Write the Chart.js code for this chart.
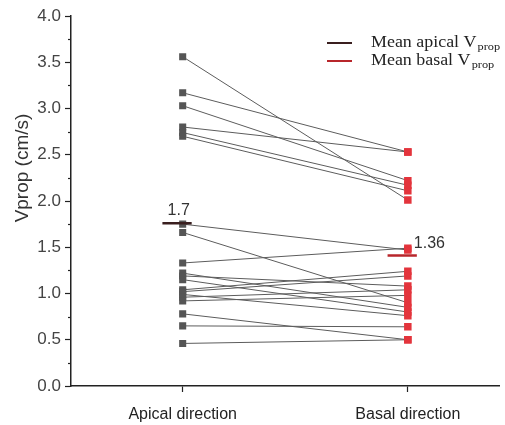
<!DOCTYPE html>
<html>
<head>
<meta charset="utf-8">
<script src="https://cdn.jsdelivr.net/npm/chart.js@4.4.1/dist/chart.umd.min.js"></script>
<style>
  html, body { margin: 0; padding: 0; background: #fff; }
</style>
</head>
<body>
<canvas id="chart" width="505" height="425"></canvas>
<script>
// data
const categories = ['Apical direction', 'Basal direction'];
const apicalValues = [3.56, 3.17, 3.03, 2.80, 2.74, 2.70, 1.75, 1.66, 1.33, 1.22, 1.19, 1.15, 1.04, 1.02, 0.99, 0.96, 0.92, 0.78, 0.65, 0.46];
const basalValues  = [2.01, 2.53, 2.22, 2.53, 2.17, 2.11, 1.47, 0.90, 1.49, 0.85, 1.08, 0.80, 1.24, 1.19, 0.76, 1.04, 0.98, 0.50, 0.64, 0.50];
const meanValues = [1.76, 1.41];
const meanLabels = ['1.7', '1.36'];
const legendNames = ['Mean apical V', 'Mean basal V'];
const legendSub = 'prop';
const yMin = 0, yMax = 4, yStep = 0.5;

const pairColor = '#5c5c5c';
const apicalColor = '#555555';
const basalColor = '#e3343c';
const meanColors = ['#3a1f1f', '#b8262b'];

// one little line per pair of measurements
const pairSets = apicalValues.map((a, i) => ({
    type: 'line',
    data: [{x: 1, y: a}, {x: 2, y: basalValues[i]}],
    borderColor: pairColor,
    borderWidth: 1,
    pointRadius: 0,
    order: 5
}));

const meanSets = meanValues.map((m, i) => ({
    type: 'line',
    data: [{x: i + 0.91, y: m}, {x: i + 1.04, y: m}],
    borderColor: meanColors[i],
    borderWidth: 2.5,
    pointRadius: 0,
    order: 1
}));

const extras = {
    id: 'extras',
    afterDraw(chart) {
        const {ctx, scales: {x, y}} = chart;
        ctx.save();

        // minor ticks on the y axis
        ctx.strokeStyle = '#222';
        ctx.lineWidth = 1.2;
        for (let v = yMin + yStep / 2; v < yMax; v += yStep) {
            const py = Math.round(y.getPixelForValue(v)) + 0.5;
            ctx.beginPath();
            ctx.moveTo(x.left - 3, py);
            ctx.lineTo(x.left, py);
            ctx.stroke();
        }

        // mean labels
        ctx.fillStyle = '#333';
        ctx.font = '16px "Liberation Sans", Arial, sans-serif';
        ctx.textBaseline = 'alphabetic';
        ctx.textAlign = 'center';
        ctx.fillText(meanLabels[0], x.getPixelForValue(1) - 4, y.getPixelForValue(meanValues[0]) - 8);
        ctx.textAlign = 'left';
        ctx.fillText(meanLabels[1], x.getPixelForValue(2) + 6, y.getPixelForValue(meanValues[1]) - 8);

        // y axis title
        ctx.save();
        ctx.translate(23, 168);
        ctx.rotate(-Math.PI / 2);
        ctx.textAlign = 'center';
        ctx.textBaseline = 'middle';
        ctx.fillStyle = '#333';
        ctx.font = '19px "Liberation Sans", Arial, sans-serif';
        ctx.fillText('Vprop (cm/s)', 0, 0);
        ctx.restore();

        // legend, text a bit wide like the original
        legendNames.forEach((name, i) => {
            const ly = 43 + i * 18;
            ctx.strokeStyle = meanColors[i];
            ctx.lineWidth = 2;
            ctx.beginPath();
            ctx.moveTo(327, ly);
            ctx.lineTo(352, ly);
            ctx.stroke();
            ctx.save();
            ctx.translate(371, ly);
            ctx.scale(1.12, 1);
            ctx.fillStyle = '#222';
            ctx.textAlign = 'left';
            ctx.font = '16px "Liberation Serif", "Times New Roman", serif';
            ctx.fillText(name, 0, 4);
            const w = ctx.measureText(name).width;
            ctx.font = '11px "Liberation Serif", "Times New Roman", serif';
            ctx.fillText(legendSub, w + 1, 7);
            ctx.restore();
        });

        ctx.restore();
    }
};

new Chart(document.getElementById('chart'), {
    type: 'scatter',
    data: {
        datasets: [
            {
                data: apicalValues.map(v => ({x: 1, y: v})),
                pointStyle: 'rect',
                pointRadius: 5,
                backgroundColor: apicalColor,
                borderWidth: 0,
                order: 2
            },
            {
                data: basalValues.map(v => ({x: 2, y: v})),
                pointStyle: 'rect',
                pointRadius: 5.3,
                backgroundColor: basalColor,
                borderWidth: 0,
                order: 2
            },
            ...meanSets,
            ...pairSets
        ]
    },
    options: {
        responsive: false,
        animation: false,
        devicePixelRatio: 1,
        layout: {padding: {top: 16, right: 0, left: 0, bottom: 0}},
        plugins: {
            legend: {display: false},
            tooltip: {enabled: false}
        },
        scales: {
            x: {
                type: 'linear',
                min: 0.504,
                max: 2.408,
                afterBuildTicks: (scale) => { scale.ticks = [{value: 1}, {value: 2}]; },
                afterFit: (scale) => { scale.height = 39; },
                ticks: {
                    callback: (v) => categories[v - 1],
                    color: '#222',
                    font: {family: '"Liberation Sans", Arial, sans-serif', size: 16},
                    padding: 13,
                    maxRotation: 0,
                    autoSkip: false
                },
                grid: {drawOnChartArea: false, tickLength: 6, tickColor: '#222', tickWidth: 1.2},
                border: {color: '#222', width: 1.5}
            },
            y: {
                min: yMin,
                max: yMax,
                afterFit: (scale) => { scale.width = 71; },
                ticks: {
                    stepSize: yStep,
                    callback: (v) => v.toFixed(1),
                    color: '#444',
                    font: {family: '"Liberation Sans", Arial, sans-serif', size: 17},
                    padding: 4
                },
                grid: {drawOnChartArea: false, tickLength: 6, tickColor: '#222', tickWidth: 1.2},
                border: {color: '#222', width: 1.5}
            }
        }
    },
    plugins: [extras]
});
</script>
</body>
</html>
